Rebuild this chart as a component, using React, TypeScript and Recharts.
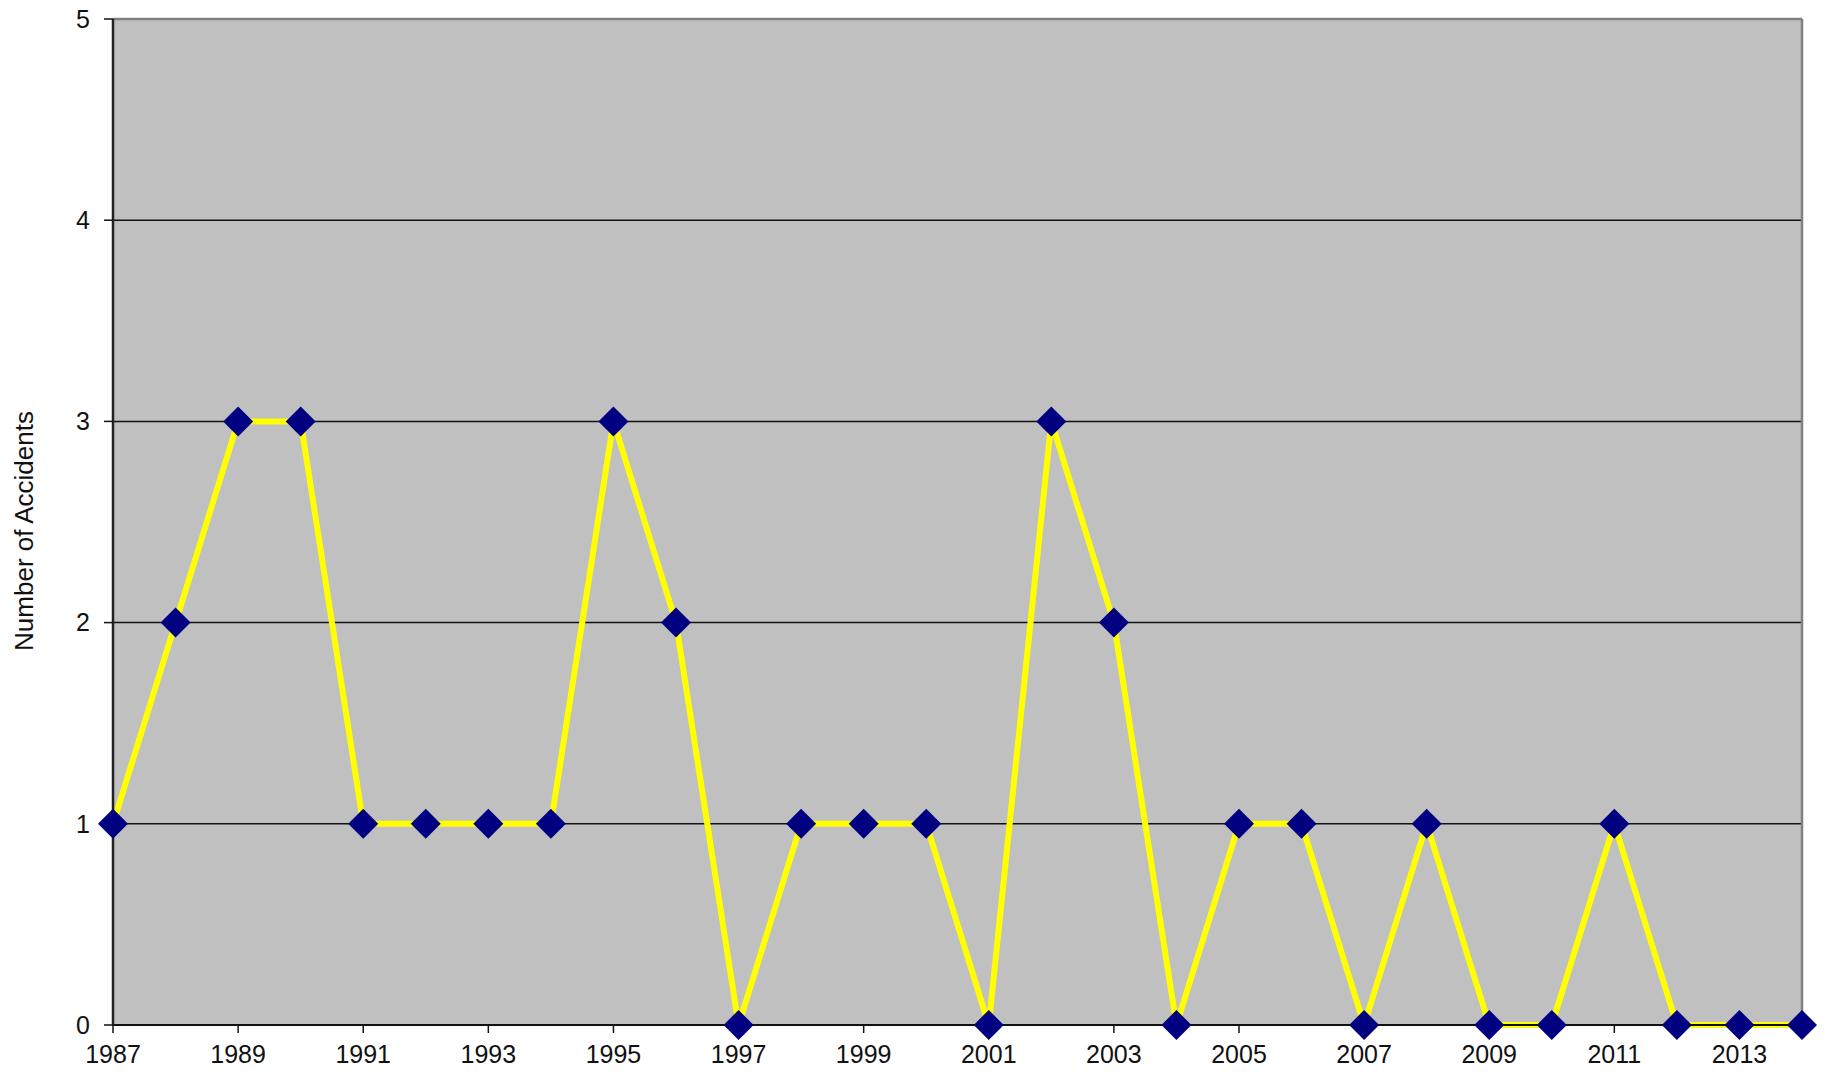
import { LineChart, Line, XAxis, YAxis, CartesianGrid, ReferenceLine, Label } from 'recharts'

const years = [
  1987, 1988, 1989, 1990, 1991, 1992, 1993, 1994, 1995, 1996, 1997, 1998, 1999, 2000,
  2001, 2002, 2003, 2004, 2005, 2006, 2007, 2008, 2009, 2010, 2011, 2012, 2013, 2014,
]
const accidents = [1, 2, 3, 3, 1, 1, 1, 1, 3, 2, 0, 1, 1, 1, 0, 3, 2, 0, 1, 1, 0, 1, 0, 0, 1, 0, 0, 0]
const yTicks = [0, 1, 2, 3, 4, 5]

const data = years.map((year, i) => ({ year, accidents: accidents[i] }))

const FONT = '"Liberation Sans", Arial, sans-serif'

// navy diamond marker
const Diamond = (props: any) => {
  const { cx, cy } = props
  if (cx == null || cy == null) return null
  const r = 15
  return (
    <polygon
      points={`${cx},${cy - r} ${cx + r},${cy} ${cx},${cy + r} ${cx - r},${cy}`}
      fill="#000080"
    />
  )
}

const YTitle = (props: any) => {
  const { viewBox } = props
  const y = viewBox.y + viewBox.height / 2 + 9
  const x = 33
  return (
    <text
      x={x}
      y={y}
      transform={`rotate(-90, ${x}, ${y})`}
      textAnchor="middle"
      fontSize={26}
      fontFamily={FONT}
      fill="#111"
    >
      Number  of Accidents
    </text>
  )
}

export default function App() {
  return (
    <div style={{ position: 'absolute', left: 0, top: 0, width: 1825, height: 1074, background: '#fff' }}>
      <LineChart
        width={1825}
        height={1074}
        data={data}
        margin={{ top: 19, right: 23, left: 0, bottom: 0 }}
      >
        <CartesianGrid fill="#C0C0C0" vertical={false} stroke="#111" strokeWidth={1.5} />
        <XAxis
          dataKey="year"
          type="category"
          interval={1}
          height={49}
          padding={{ left: 0, right: 0 }}
          tick={{ fontSize: 25, fontFamily: FONT, fill: '#111' }}
          tickSize={8}
          tickMargin={12}
          axisLine={{ stroke: '#111', strokeWidth: 2 }}
          tickLine={{ stroke: '#111', strokeWidth: 1.5 }}
        />
        <YAxis
          domain={[0, 5]}
          ticks={yTicks}
          width={113}
          tick={{ fontSize: 25, fontFamily: FONT, fill: '#111' }}
          tickSize={9}
          tickMargin={14}
          axisLine={{ stroke: '#222', strokeWidth: 2.5 }}
          tickLine={{ stroke: '#111', strokeWidth: 1.5 }}
        >
          <Label content={YTitle} />
        </YAxis>
        <ReferenceLine y={5} stroke="#808080" strokeWidth={2.5} />
        <ReferenceLine x={2014} stroke="#808080" strokeWidth={2.5} />
        <Line
          type="linear"
          dataKey="accidents"
          stroke="#FFFF00"
          strokeWidth={6}
          dot={<Diamond />}
          activeDot={false}
          isAnimationActive={false}
        />
      </LineChart>
    </div>
  )
}
